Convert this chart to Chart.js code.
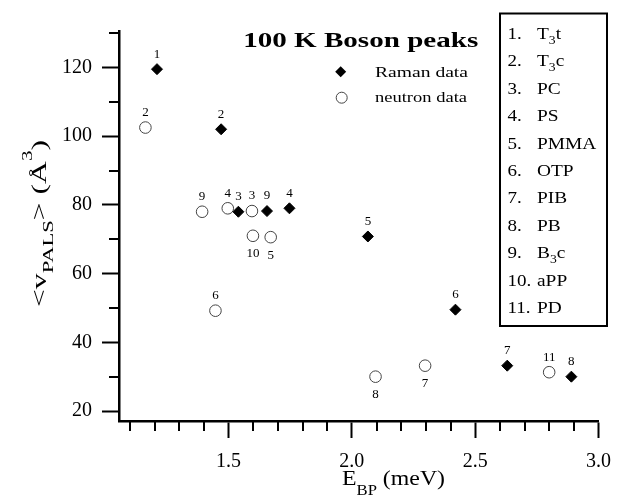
<!DOCTYPE html>
<html><head><meta charset="utf-8">
<script src="https://cdn.jsdelivr.net/npm/chart.js@4/dist/chart.umd.min.js"></script>
<style>html,body{margin:0;padding:0;background:#fff}canvas{display:block}</style>
</head><body>
<canvas id="c" width="623" height="498"></canvas>
<script>
// ---- data ----
const ramanE = [1.21, 1.47, 1.54, 1.656, 1.747, 2.065, 2.42, 2.63, 2.89];
const ramanV = [119.5, 102, 78, 78.2, 79, 70.8, 49.5, 33.2, 30];
const ramanLabels = ['1', '2', '3', '9', '4', '5', '6', '7', '8'];

const neutronE = [1.163, 1.393, 1.497, 1.595, 1.599, 1.671, 1.447, 2.096, 2.297, 2.80];
const neutronV = [102.5, 78, 79, 78.2, 71, 70.6, 49.2, 30, 33.2, 31.3];
const neutronLabels = ['2', '9', '4', '3', '10', '5', '6', '8', '7', '11'];
const neutronLabelBelow = [0, 0, 0, 0, 1, 1, 0, 1, 1, 0];

const xMajorTicks = [1.5, 2.0, 2.5, 3.0];
const xMinorTicks = [1.1, 1.2, 1.3, 1.4, 1.6, 1.7, 1.8, 1.9, 2.1, 2.2, 2.3, 2.4, 2.6, 2.7, 2.8, 2.9];
const yMajorTicks = [20, 40, 60, 80, 100, 120];
const yMinorTicks = [30, 50, 70, 90, 110, 130];

// material list: number, name, subscript, suffix
const materialNums = ['1.', '2.', '3.', '4.', '5.', '6.', '7.', '8.', '9.', '10.', '11.'];
const materialNames = ['T', 'T', 'PC', 'PS', 'PMMA', 'OTP', 'PIB', 'PB', 'B', 'aPP', 'PD'];
const materialSubs = ['3', '3', '', '', '', '', '', '', '3', '', ''];
const materialTails = ['t', 'c', '', '', '', '', '', '', 'c', '', ''];

const chartTitle = '100 K Boson peaks';
const legendNames = ['Raman data', 'neutron data'];

// ---- helpers ----
const SERIF = '"Liberation Serif", "Times New Roman", Tinos, serif';
function f(size, bold) { return (bold ? 'bold ' : '') + size + 'px ' + SERIF; }

function drawRich(ctx, parts, x, y, opts) {
  opts = opts || {};
  ctx.save();
  let w = 0;
  for (const p of parts) { ctx.font = p.f; w += ctx.measureText(p.t).width; }
  let sx = opts.sx || 1;
  if (opts.target) sx = opts.target / w;
  ctx.translate(x, y);
  if (opts.rot) ctx.rotate(opts.rot);
  ctx.scale(sx, 1);
  ctx.textBaseline = 'alphabetic';
  ctx.textAlign = 'left';
  ctx.fillStyle = '#000';
  let cx = opts.align === 'center' ? -w / 2 : 0;
  for (const p of parts) {
    ctx.font = p.f;
    ctx.fillText(p.t, cx, p.dy || 0);
    cx += ctx.measureText(p.t).width;
  }
  ctx.restore();
}

const decorPlugin = {
  id: 'decor',
  afterDatasetsDraw(chart) {
    const ctx = chart.ctx;
    ctx.save();
    ctx.fillStyle = '#000';
    ctx.font = f(13);
    ctx.textAlign = 'center';
    ctx.textBaseline = 'middle';
    chart.getDatasetMeta(0).data.forEach((pt, i) => {
      ctx.fillText(ramanLabels[i], pt.x, pt.y - 15);
    });
    chart.getDatasetMeta(1).data.forEach((pt, i) => {
      const below = neutronLabelBelow[i];
      ctx.fillText(neutronLabels[i], pt.x, below ? pt.y + 18 : pt.y - 15);
    });
    ctx.restore();
  },
  afterDraw(chart) {
    const ctx = chart.ctx;
    const xs = chart.scales.x, ys = chart.scales.y;
    const ca = chart.chartArea;
    ctx.save();
    // minor ticks
    ctx.strokeStyle = '#000';
    ctx.lineWidth = 2;
    ctx.beginPath();
    xMinorTicks.forEach(v => {
      const px = Math.round(xs.getPixelForValue(v));
      ctx.moveTo(px, ca.bottom); ctx.lineTo(px, ca.bottom + 10);
    });
    yMinorTicks.forEach(v => {
      if (v > ys.max) return;
      const py = Math.round(ys.getPixelForValue(v));
      ctx.moveTo(ca.left, py); ctx.lineTo(ca.left - 10, py);
    });
    ctx.stroke();

    // title
    drawRich(ctx, [{ t: chartTitle, f: f(22, true) }], 360.7, 46.5, { align: 'center', target: 235 });

    // inner legend
    ctx.fillStyle = '#000';
    ctx.beginPath();
    const dx = 340.7, dy = 71.7, r = 5.5;
    ctx.moveTo(dx, dy - r); ctx.lineTo(dx + r, dy); ctx.lineTo(dx, dy + r); ctx.lineTo(dx - r, dy); ctx.closePath();
    ctx.fill();
    ctx.beginPath();
    ctx.strokeStyle = '#444';
    ctx.lineWidth = 1;
    ctx.arc(341.7, 97.7, 5.5, 0, Math.PI * 2);
    ctx.stroke();
    drawRich(ctx, [{ t: legendNames[0], f: f(15) }], 375, 77, { target: 93 });
    drawRich(ctx, [{ t: legendNames[1], f: f(15) }], 375, 102, { target: 92 });

    // material box
    ctx.strokeStyle = '#000';
    ctx.lineWidth = 2;
    ctx.strokeRect(500, 13.5, 107, 312.5);
    materialNums.forEach((num, i) => {
      const by = 39 + i * 27.4;
      drawRich(ctx, [{ t: num, f: f(17) }], 507.5, by, { sx: 1.12 });
      const parts = [{ t: materialNames[i], f: f(17) }];
      if (materialSubs[i]) parts.push({ t: materialSubs[i], f: f(12), dy: 5 });
      if (materialTails[i]) parts.push({ t: materialTails[i], f: f(17) });
      drawRich(ctx, parts, 537, by, { sx: 1.14 });
    });

    // x axis title
    drawRich(ctx, [
      { t: 'E', f: f(20) },
      { t: 'BP', f: f(14), dy: 10 },
      { t: ' (meV)', f: f(20) }
    ], 342, 485, { target: 103 });

    // y axis title (rotated)
    drawRich(ctx, [
      { t: '<v', f: f(21) },
      { t: 'PALS', f: f(15), dy: 7 },
      { t: '> (Å', f: f(21) },
      { t: '3', f: f(14), dy: -14 },
      { t: ')', f: f(21) }
    ], 46, 223.5, { rot: -Math.PI / 2, align: 'center', target: 167 });
    ctx.restore();
  }
};

const tickFont = { family: SERIF, size: 20 };

new Chart(document.getElementById('c'), {
  type: 'scatter',
  data: {
    datasets: [
      {
        label: legendNames[0],
        data: ramanE.map((x, i) => ({ x: x, y: ramanV[i] })),
        pointStyle: 'rectRot',
        pointRadius: 5.5,
        backgroundColor: '#000',
        borderColor: '#000',
        borderWidth: 1
      },
      {
        label: legendNames[1],
        data: neutronE.map((x, i) => ({ x: x, y: neutronV[i] })),
        pointStyle: 'circle',
        pointRadius: 5.8,
        backgroundColor: 'rgba(255,255,255,0)',
        borderColor: '#444',
        borderWidth: 1
      }
    ]
  },
  options: {
    responsive: false,
    devicePixelRatio: 1,
    animation: false,
    layout: { padding: { left: 0, right: 17, top: 31, bottom: 0 } },
    plugins: { legend: { display: false }, tooltip: { enabled: false }, title: { display: false } },
    scales: {
      x: {
        type: 'linear',
        min: 1.056,
        max: 3.0,
        afterBuildTicks: s => { s.ticks = xMajorTicks.map(v => ({ value: v })); },
        afterFit: s => { s.height = 77; },
        ticks: { font: tickFont, color: '#000', padding: 12, maxRotation: 0, autoSkip: false, callback: v => Number(v).toFixed(1) },
        grid: { drawOnChartArea: false, drawTicks: true, tickLength: 17, tickWidth: 2, tickColor: '#000' },
        border: { display: true, color: '#000', width: 2.5 }
      },
      y: {
        type: 'linear',
        min: 17.1,
        max: 130.6,
        afterBuildTicks: s => { s.ticks = yMajorTicks.map(v => ({ value: v })); },
        afterFit: s => { s.width = 119; },
        ticks: { font: tickFont, color: '#000', padding: 10, autoSkip: false, callback: v => String(v) },
        grid: { drawOnChartArea: false, drawTicks: true, tickLength: 17, tickWidth: 2, tickColor: '#000' },
        border: { display: true, color: '#000', width: 2.5 }
      }
    }
  },
  plugins: [decorPlugin]
});
</script>
</body></html>
